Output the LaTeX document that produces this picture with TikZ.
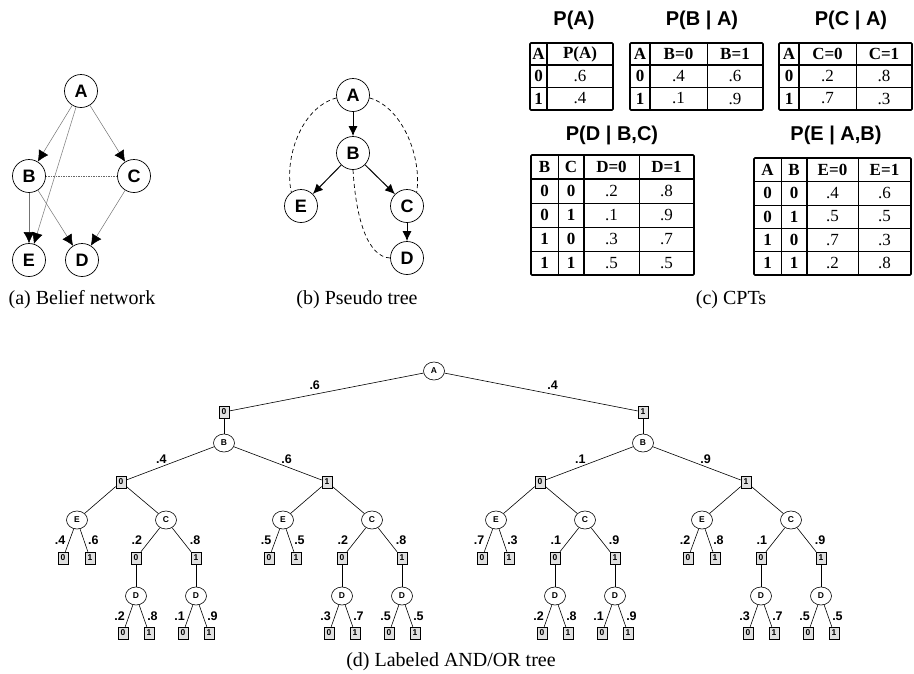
\documentclass[tikz,border=0pt]{standalone}
\usepackage{fontspec}
\setmainfont{Liberation Serif}
\setsansfont{Liberation Sans}
\usetikzlibrary{arrows.meta,shapes.geometric}

\tikzset{
  bnnode/.style={circle,draw,line width=0.7pt,minimum size=33pt,inner sep=0pt,
    font=\sffamily\bfseries\fontsize{18}{18}\selectfont},
  bnedge/.style={draw=black!55,line width=0.5pt,-{Latex[color=black,length=11pt,width=11pt]}},
  ptedge/.style={line width=1pt,-{Latex[length=10pt,width=9pt]}},
  ptback/.style={line width=0.7pt,dash pattern=on 4pt off 3pt},
  cpttitle/.style={font=\sffamily\bfseries\fontsize{20}{20}\selectfont},
  cell/.style={font=\fontsize{17}{17}\selectfont},
  hcell/.style={font=\bfseries\fontsize{17}{17}\selectfont},
  outer/.style={line width=1.6pt,rounded corners=1pt},
  thickrule/.style={line width=1.2pt},
  thinrule/.style={line width=0.5pt},
  ornode/.style={ellipse,draw,line width=0.6pt,minimum width=21pt,minimum height=18pt,
    inner sep=0pt,fill=white,font=\sffamily\bfseries\fontsize{8.5}{8.5}\selectfont},
  andnode/.style={rectangle,draw,line width=0.6pt,fill=black!12,minimum width=10pt,
    minimum height=12pt,inner sep=0pt,font=\sffamily\bfseries\fontsize{8.5}{8.5}\selectfont},
  prob/.style={font=\sffamily\bfseries\fontsize{12.5}{12.5}\selectfont,inner sep=1pt},
  caption/.style={font=\fontsize{20}{20}\selectfont}
}

\begin{document}
\begin{tikzpicture}[x=1pt,y=-1pt,line width=0.6pt]
  \useasboundingbox (0,0) rectangle (914,673);

  % (a) belief network
  \node[bnnode] (bA) at (81,91) {A};
  \node[bnnode] (bB) at (29,176) {B};
  \node[bnnode] (bC) at (134,176) {C};
  \node[bnnode] (bE) at (29,260) {E};
  \node[bnnode] (bD) at (82,260) {D};
  \draw[bnedge] (bA) -- (bB);
  \draw[bnedge] (bA) -- (bC);
  \draw[bnedge] (bA) -- (bE);
  \draw[bnedge] (bB) -- (bE);
  \draw[bnedge] (bB) -- (bD);
  \draw[bnedge] (bC) -- (bD);
  \draw[black!60,line width=0.8pt,dash pattern=on 1.5pt off 1pt] (bB) -- (bC);
  \node[caption] (capa) at (82,300) {(a) Belief network};

  % (b) pseudo tree
  \node[bnnode] (pA) at (353,95) {A};
  \node[bnnode] (pB) at (353,153) {B};
  \node[bnnode] (pE) at (301,206) {E};
  \node[bnnode] (pC) at (407,206) {C};
  \node[bnnode] (pD) at (407,258) {D};
  \draw[ptedge] (pA) -- (pB);
  \draw[ptedge] (pB) -- (pE);
  \draw[ptedge] (pB) -- (pC);
  \draw[ptedge] (pC) -- (pD);
  \draw[ptback] (pA.190) .. controls (300,108) and (284,160) .. (pE.125);
  \draw[ptback] (pA.-10) .. controls (404,108) and (422,160) .. (pC.55);
  \draw[ptback] (pB.-90) .. controls (356,220) and (368,257) .. (pD.180);
  \node[caption] (capb) at (357,300) {(b) Pseudo tree};

  % (c) CPTs
  \node[cpttitle] (tpa) at (574,20) {P(A)};
  \node[cpttitle] (tpb) at (702,20) {P(B | A)};
  \node[cpttitle] (tpc) at (851,20) {P(C | A)};
  \node[cpttitle] (tpd) at (612,135) {P(D | B,C)};
  \node[cpttitle] (tpe) at (836,135) {P(E | A,B)};
%%% P(A)
  \draw[thinrule] (530,87) -- (613,87);
  \draw[thickrule] (530,65) -- (613,65);
  \draw[thickrule] (547,43) -- (547,110);
  \draw[outer] (530,43) rectangle (613,110);
  \node[hcell] (pa01) at (538.5,54) {A};
  \node[hcell] (pa02) at (580,54) {P(A)};
  \foreach \y/\a/\p [count=\i] in {76/0/.6,98.5/1/.4} {
    \node[hcell] (pa\i1) at (538.5,\y) {\a};
    \node[cell] (pa\i2) at (580,\y) {\p};
  }
%%% P(B|A)
  \draw[thinrule] (630,87) -- (763,87);
  \draw[thinrule] (707,43) -- (707,110);
  \draw[thickrule] (630,65) -- (763,65);
  \draw[thickrule] (650,43) -- (650,110);
  \draw[outer] (630,43) rectangle (763,110);
  \node[hcell] (pb01) at (640,54) {A};
  \node[hcell] (pb02) at (678.5,54) {B=0};
  \node[hcell] (pb03) at (735,54) {B=1};
  \foreach \y/\a/\p/\q [count=\i] in {76/0/.4/.6,98.5/1/.1/.9} {
    \node[hcell] (pb\i1) at (640,\y) {\a};
    \node[cell] (pb\i2) at (678.5,\y) {\p};
    \node[cell] (pb\i3) at (735,\y) {\q};
  }
%%% P(C|A)
  \draw[thinrule] (779,87) -- (912,87);
  \draw[thinrule] (856,43) -- (856,110);
  \draw[thickrule] (779,65) -- (912,65);
  \draw[thickrule] (799,43) -- (799,110);
  \draw[outer] (779,43) rectangle (912,110);
  \node[hcell] (pc01) at (789,54) {A};
  \node[hcell] (pc02) at (827.5,54) {C=0};
  \node[hcell] (pc03) at (884,54) {C=1};
  \foreach \y/\a/\p/\q [count=\i] in {76/0/.2/.8,98.5/1/.7/.3} {
    \node[hcell] (pc\i1) at (789,\y) {\a};
    \node[cell] (pc\i2) at (827.5,\y) {\p};
    \node[cell] (pc\i3) at (884,\y) {\q};
  }
%%% P(D|B,C)
  \foreach \y in {203,227,251}
    \draw[thinrule] (531,\y) -- (694,\y);
  \draw[thinrule] (558,155) -- (558,275);
  \draw[thinrule] (639,155) -- (639,275);
  \draw[thickrule] (531,179) -- (694,179);
  \draw[thickrule] (584,155) -- (584,275);
  \draw[outer] (531,155) rectangle (694,275);
  \node[hcell] (pd01) at (544.5,167) {B};
  \node[hcell] (pd02) at (571,167) {C};
  \node[hcell] (pd03) at (611.5,167) {D=0};
  \node[hcell] (pd04) at (666.5,167) {D=1};
  \foreach \y/\b/\c/\p/\q [count=\i] in {191/0/0/.2/.8,215/0/1/.1/.9,239/1/0/.3/.7,263/1/1/.5/.5} {
    \node[hcell] (pd\i1) at (544.5,\y) {\b};
    \node[hcell] (pd\i2) at (571,\y) {\c};
    \node[cell] (pd\i3) at (611.5,\y) {\p};
    \node[cell] (pd\i4) at (666.5,\y) {\q};
  }
%%% P(E|A,B)
  \foreach \y in {204.8,228.2,251.6}
    \draw[thinrule] (754,\y) -- (911,\y);
  \draw[thinrule] (781,158) -- (781,275);
  \draw[thinrule] (858,158) -- (858,275);
  \draw[thickrule] (754,181.4) -- (911,181.4);
  \draw[thickrule] (807,158) -- (807,275);
  \draw[outer] (754,158) rectangle (911,275);
  \node[hcell] (pe01) at (767.5,169.7) {A};
  \node[hcell] (pe02) at (794,169.7) {B};
  \node[hcell] (pe03) at (832.5,169.7) {E=0};
  \node[hcell] (pe04) at (884.5,169.7) {E=1};
  \foreach \y/\a/\b/\p/\q [count=\i] in {193.1/0/0/.4/.6,216.5/0/1/.5/.5,239.9/1/0/.7/.3,263.3/1/1/.2/.8} {
    \node[hcell] (pe\i1) at (767.5,\y) {\a};
    \node[hcell] (pe\i2) at (794,\y) {\b};
    \node[cell] (pe\i3) at (832.5,\y) {\p};
    \node[cell] (pe\i4) at (884.5,\y) {\q};
  }
  \node[caption] (capc) at (731,300) {(c) CPTs};

  % (d) labeled AND/OR tree
  \node[ornode] (tA) at (434,371) {A};
  \foreach \s/\xs/\pa in {0/224/.6,1/643/.4} {
    \node[andnode] (t\s) at (\xs,412) {\s};
    \node[ornode] (tB\s) at (\xs,443) {B};
    \draw (tA) -- node[prob,above=3pt,pos=0.56] {\pa} (t\s);
    \draw (t\s) -- (tB\s);
  }
  \foreach \s/\b/\xb/\pb/\el/\er/\cl/\cr/\dal/\dar/\dbl/\dbr in {
      0/0/121/.4/.4/.6/.2/.8/.2/.8/.1/.9,
      0/1/327/.6/.5/.5/.2/.8/.3/.7/.5/.5,
      1/0/540/.1/.7/.3/.1/.9/.2/.8/.1/.9,
      1/1/746/.9/.2/.8/.1/.9/.3/.7/.5/.5} {
    \node[andnode] (t\s\b) at (\xb,482) {\b};
    \draw (tB\s) -- node[prob,above=2pt,pos=0.6] {\pb} (t\s\b);
    \node[ornode] (tE\s\b) at (\xb-44,520) {E};
    \node[ornode] (tC\s\b) at (\xb+45,520) {C};
    \draw (t\s\b) -- (tE\s\b);
    \draw (t\s\b) -- (tC\s\b);
    % E leaves
    \node[andnode] (tE\s\b0) at (\xb-58,558) {0};
    \node[andnode] (tE\s\b1) at (\xb-31,558) {1};
    \draw (tE\s\b) -- node[prob,midway,left=3pt] {\el} (tE\s\b0);
    \draw (tE\s\b) -- node[prob,midway,right=3pt] {\er} (tE\s\b1);
    % C values and D below them
    \node[andnode] (tC\s\b0) at (\xb+15,558) {0};
    \node[andnode] (tC\s\b1) at (\xb+75,558) {1};
    \draw (tC\s\b) -- node[prob,midway,left=7pt] {\cl} (tC\s\b0);
    \draw (tC\s\b) -- node[prob,midway,right=7pt] {\cr} (tC\s\b1);
    \node[ornode] (tDa\s\b) at (\xb+15,596) {D};
    \node[ornode] (tDb\s\b) at (\xb+75,596) {D};
    \draw (tC\s\b0) -- (tDa\s\b);
    \draw (tC\s\b1) -- (tDb\s\b);
    \node[andnode] (tDa\s\b0) at (\xb+2,633) {0};
    \node[andnode] (tDa\s\b1) at (\xb+28,633) {1};
    \node[andnode] (tDb\s\b0) at (\xb+62,633) {0};
    \node[andnode] (tDb\s\b1) at (\xb+88,633) {1};
    \draw (tDa\s\b) -- node[prob,midway,left=3pt] {\dal} (tDa\s\b0);
    \draw (tDa\s\b) -- node[prob,midway,right=3pt] {\dar} (tDa\s\b1);
    \draw (tDb\s\b) -- node[prob,midway,left=3pt] {\dbl} (tDb\s\b0);
    \draw (tDb\s\b) -- node[prob,midway,right=3pt] {\dbr} (tDb\s\b1);
  }
  \node[caption] (capd) at (451,662) {(d) Labeled AND/OR tree};
\end{tikzpicture}
\end{document}
